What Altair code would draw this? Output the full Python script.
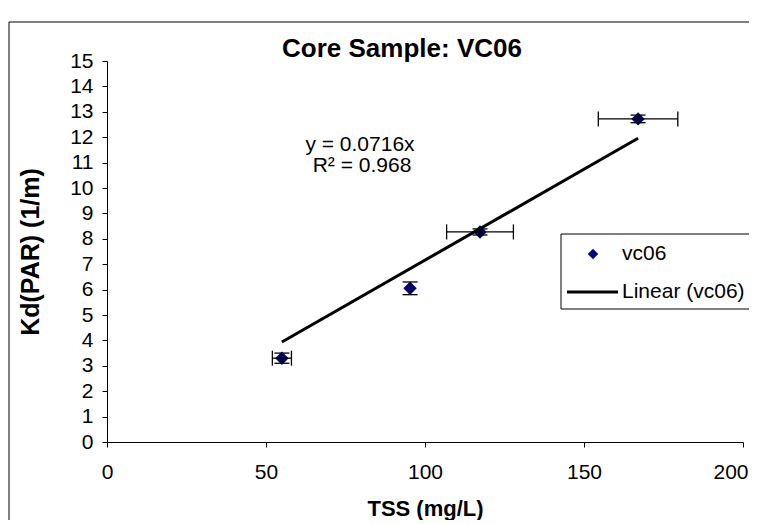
import altair as alt
import pandas as pd

# ---- data ----
tss = [55.0, 95.3, 117.3, 167.0]
kd = [3.3, 6.05, 8.27, 12.72]
tss_err = [3.0, 0.0, 10.5, 12.5]
kd_err = [0.2, 0.25, 0.12, 0.15]
slope = 0.0716
r2 = 0.968
x_ticks = [0, 50, 100, 150, 200]
y_ticks = list(range(0, 16))
series_label = "vc06"
trend_label = "Linear (vc06)"
eq_lines = ["y = 0.0716x", "R\u00b2 = 0.968"]
title_text = "Core Sample: VC06"

df = pd.DataFrame({"tss": tss, "kd": kd, "xe": tss_err, "ye": kd_err})
df["xlo"] = df.tss - df.xe
df["xhi"] = df.tss + df.xe
df["ylo"] = df.kd - df.ye
df["yhi"] = df.kd + df.ye

fit = pd.DataFrame({"tss": [min(tss), max(tss)]})
fit["kd"] = slope * fit["tss"]

W, H = 636, 381
FONT = "Liberation Sans"
NAVY = "#000080"

xs = alt.Scale(domain=[0, 200], nice=False, zero=False)
ys = alt.Scale(domain=[0, 15], nice=False, zero=False)

x_axis = alt.Axis(values=x_ticks, title="TSS (mg/L)", grid=False, labelPadding=14,
                  titleY=66, titleBaseline="middle", format="d", titleFontSize=22,
                  labelAlign=alt.expr("datum.value == 200 ? 'right' : 'center'"),
                  labelOffset=alt.expr("datum.value == 200 ? 5 : 0"))
y_axis = alt.Axis(values=y_ticks, title="Kd(PAR) (1/m)", grid=False, labelPadding=9,
                  titleX=-77, titleY=H / 2, titleBaseline="middle", titleAngle=-90,
                  titleAlign="center", format="d", titleFontSize=25)

X = lambda f: alt.X(f, scale=xs, axis=x_axis)
Y = lambda f: alt.Y(f, scale=ys, axis=y_axis)

base = alt.Chart(df)

# error bars (x)
xerr = base.transform_filter("datum.xe > 0")
xbar = xerr.mark_rule(color="black", strokeWidth=1.3).encode(
    x=X("xlo:Q"), x2="xhi:Q", y=Y("kd:Q"))
xcap_lo = xerr.mark_rule(color="black", strokeWidth=1.3, yOffset=-7.5, y2Offset=7.5).encode(
    x=X("xlo:Q"), y=Y("kd:Q"), y2="kd:Q")
xcap_hi = xerr.mark_rule(color="black", strokeWidth=1.3, yOffset=-7.5, y2Offset=7.5).encode(
    x=X("xhi:Q"), y=Y("kd:Q"), y2="kd:Q")

# error bars (y)
ybar = base.mark_rule(color="black", strokeWidth=1.3).encode(
    x=X("tss:Q"), y=Y("ylo:Q"), y2="yhi:Q")
ycap_lo = base.mark_rule(color="black", strokeWidth=1.3, xOffset=-7.5, x2Offset=7.5).encode(
    x=X("tss:Q"), x2="tss:Q", y=Y("ylo:Q"))
ycap_hi = base.mark_rule(color="black", strokeWidth=1.3, xOffset=-7.5, x2Offset=7.5).encode(
    x=X("tss:Q"), x2="tss:Q", y=Y("yhi:Q"))

points = base.mark_point(shape="diamond", filled=True, fill=NAVY, size=180, opacity=1,
                         strokeWidth=0).encode(x=X("tss:Q"), y=Y("kd:Q"))

trend = alt.Chart(fit).mark_line(color="black", strokeWidth=3).encode(
    x=X("tss:Q"), y=Y("kd:Q"))

# equation annotation
eq_df = pd.DataFrame({"t": eq_lines})
eq1 = alt.Chart(eq_df.iloc[[0]]).mark_text(font=FONT, fontSize=21, align="center",
                                            baseline="middle", color="black").encode(
    text="t:N", x=alt.value(253), y=alt.value(84))
eq2 = alt.Chart(eq_df.iloc[[1]]).mark_text(font=FONT, fontSize=21, align="center",
                                            baseline="middle", color="black").encode(
    text="t:N", x=alt.value(255), y=alt.value(105))

# chart title (as text, above the plot area)
ttl_df = pd.DataFrame({"t": [title_text]})
ttl = alt.Chart(ttl_df).mark_text(font=FONT, fontSize=26, fontWeight="bold", align="center",
                                  baseline="alphabetic", color="black").encode(
    text="t:N", x=alt.value(295), y=alt.value(-4))

# legend (manual box)
one = pd.DataFrame({"a": [0]})
leg_box = alt.Chart(one).mark_rect(filled=False, stroke="black", strokeWidth=1).encode(
    x=alt.value(454), x2=alt.value(720), y=alt.value(173), y2=alt.value(248))
leg_df = pd.DataFrame({"label": [series_label, trend_label]})
leg_pt = alt.Chart(one).mark_point(shape="diamond", filled=True, fill=NAVY, size=110,
                                   opacity=1, strokeWidth=0).encode(
    x=alt.value(486), y=alt.value(193))
leg_ln = alt.Chart(one).mark_rule(color="black", strokeWidth=3).encode(
    x=alt.value(460), x2=alt.value(511), y=alt.value(231))
leg_t1 = alt.Chart(leg_df.iloc[[0]]).mark_text(font=FONT, fontSize=21, align="left",
                                                baseline="middle", color="black").encode(
    text="label:N", x=alt.value(515), y=alt.value(193))
leg_t2 = alt.Chart(leg_df.iloc[[1]]).mark_text(font=FONT, fontSize=21, align="left",
                                                baseline="middle", color="black").encode(
    text="label:N", x=alt.value(515), y=alt.value(231))

# outer chart border
border = alt.Chart(one).mark_rect(filled=False, stroke="black", strokeWidth=1).encode(
    x=alt.value(-98), x2=alt.value(700), y=alt.value(-39), y2=alt.value(520))

chart = alt.layer(
    border, points, xbar, xcap_lo, xcap_hi, ybar, ycap_lo, ycap_hi, trend,
    eq1, eq2, ttl, leg_box, leg_pt, leg_ln, leg_t1, leg_t2
).properties(
    width=W, height=H,
    background="white",
    autosize=alt.AutoSizeParams(type="none"),
    padding={"left": 99, "top": 53, "right": 6, "bottom": 78},
).configure_view(strokeWidth=0).configure_axis(
    labelFont=FONT, labelFontSize=21, labelColor="black",
    titleFont=FONT, titleFontWeight="bold", titleColor="black",
    domainColor="black", tickColor="black", tickSize=5, domainWidth=1, tickWidth=1,
)

chart.save("out.html", embed_options={"renderer": "svg", "actions": False})
